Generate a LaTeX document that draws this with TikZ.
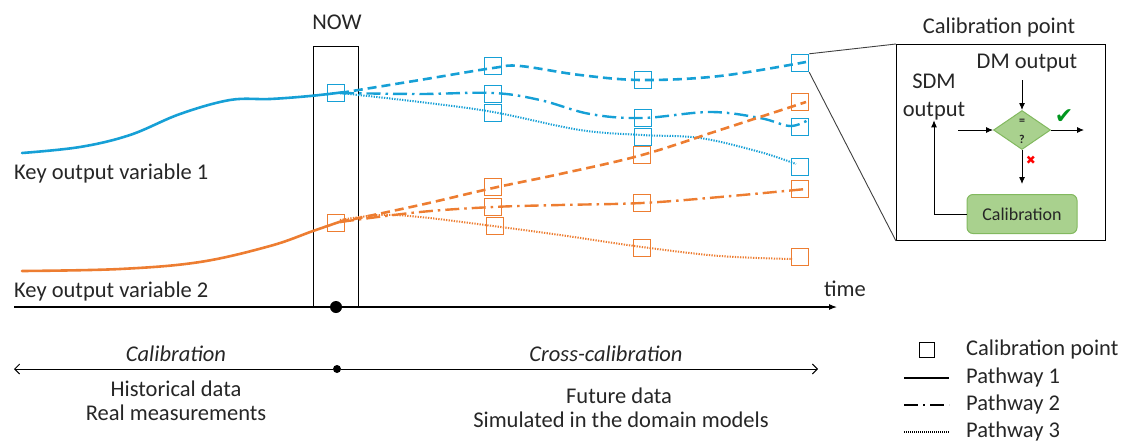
\documentclass[tikz,border=0pt]{standalone}
\usepackage{fontspec}
\setmainfont{Carlito}
\newfontfamily\symfont{DejaVu Sans}
\usetikzlibrary{arrows.meta,shapes.geometric}
\definecolor{cblue}{RGB}{22,160,214}
\definecolor{corange}{RGB}{237,125,49}
\definecolor{gfill}{RGB}{169,209,142}
\definecolor{gdraw}{RGB}{130,185,95}
\definecolor{txt}{RGB}{38,38,38}
\begin{document}
\begin{tikzpicture}[x=1pt,y=-1pt,
  lbl/.style={font=\fontsize{22.5}{26}\selectfont, text=txt, inner sep=0pt},
  sq/.style={draw, line width=1.4pt, minimum size=17pt, inner sep=0pt},
  sqb/.style={sq, draw=cblue},
  sqo/.style={sq, draw=corange},
  pw1/.style={line width=2.6pt, line cap=round},
  pwdash/.style={line width=2.6pt, dash pattern=on 9pt off 5pt},
  pw2/.style={line width=2.4pt, dash pattern=on 14pt off 5pt on 2.5pt off 5pt},
  pw3/.style={line width=2pt, dash pattern=on 1.3pt off 1.3pt},
  arr/.style={-{Latex[length=7pt,width=6pt]}, line width=0.9pt},
  greenbox/.style={fill=gfill, draw=gdraw, line width=1pt}
]
\useasboundingbox (0,0) rectangle (1126,442);

% "now" window and time axis
\node[draw, line width=1pt, minimum width=45pt, minimum height=261pt, anchor=north west, inner sep=0pt] (nowbox) at (313,46) {};
\node[lbl] (nowlbl) at (337,22) {NOW};
\coordinate (ax0) at (14,307);
\coordinate (ax1) at (837,307);
\draw[-{Latex[length=8pt,width=6pt]}, line width=1.1pt] (ax0) -- (ax1);
\node[lbl] (timelbl) at (845,289) {time};
\node[circle, fill=black, minimum size=12pt, inner sep=0pt] (nowdot) at (336,307) {};

% historical curves
\draw[cblue, pw1] plot[smooth, tension=0.6] coordinates {(22,153) (80,147) (130,135) (180,114) (230,100) (270,99) (310,96) (345,92)};
\draw[corange, pw1] plot[smooth, tension=0.6] coordinates {(22,271) (120,269) (200,262) (270,246) (313,231) (345,220)};

% future pathways, variable 1
\draw[cblue, pwdash] plot[smooth, tension=0.6] coordinates {(340,93) (420,80) (493,68) (520,66) (580,75) (642,80) (720,76) (806,62)};
\draw[cblue, pw2] plot[smooth, tension=0.6] coordinates {(340,93) (420,94) (493,93) (540,100) (590,114) (642,118) (710,112) (760,118) (790,126) (808,120)};
\draw[cblue, pw3] plot[smooth, tension=0.6] coordinates {(340,93) (420,102) (493,112) (580,130) (642,135) (700,138) (760,152) (796,164)};

% future pathways, variable 2
\draw[corange, pwdash] plot[smooth, tension=0.6] coordinates {(340,222) (420,205) (493,188) (560,174) (642,155) (720,130) (806,102)};
\draw[corange, pw2] plot[smooth, tension=0.6] coordinates {(340,222) (420,212) (493,207) (560,205) (642,203) (720,197) (806,189)};
\draw[corange, pw3] plot[smooth, tension=0.6] coordinates {(340,220) (380,215) (420,217) (493,226) (560,235) (642,247) (720,256) (792,259)};

% calibration points
\node[sqb] (b0) at (336,93) {};
\node[sqb] (b1a) at (493,66) {};
\node[sqb] (b1b) at (493,94) {};
\node[sqb] (b1c) at (493,113) {};
\node[sqb] (b2a) at (643,80) {};
\node[sqb] (b2b) at (643,118) {};
\node[sqb] (b2c) at (643,137) {};
\node[sqb] (b3a) at (800,63) {};
\node[sqb] (b3b) at (800,127) {};
\node[sqb] (b3c) at (800,167) {};
\node[sqo] (o0) at (336,223) {};
\node[sqo] (o1a) at (493,187) {};
\node[sqo] (o1b) at (493,207) {};
\node[sqo] (o1c) at (495,226) {};
\node[sqo] (o2a) at (642,155) {};
\node[sqo] (o2b) at (642,203) {};
\node[sqo] (o2c) at (642,248) {};
\node[sqo] (o3a) at (800,102) {};
\node[sqo] (o3b) at (800,189) {};
\node[sqo] (o3c) at (800,257) {};

% variable names
\node[lbl, anchor=west] (var1) at (14,173) {Key output variable 1};
\node[lbl, anchor=west] (var2) at (14,291) {Key output variable 2};

% phases
\node[circle, fill=black, minimum size=8pt, inner sep=0pt] (middot) at (337,369) {};
\coordinate (phL) at (14,369);
\coordinate (phR) at (818,369);
\draw[{Straight Barb[length=5pt,width=10pt]}-, line width=0.9pt] (phL) -- (middot);
\draw[-{Straight Barb[length=5pt,width=10pt]}, line width=0.9pt] (middot) -- (phR);
\node[lbl, font=\fontsize{22.5}{26}\selectfont\itshape] (calph) at (176,354) {Calibration};
\node[lbl, font=\fontsize{22.5}{26}\selectfont\itshape] (xcalph) at (606,354) {Cross-calibration};
\node[lbl] (hist1) at (176,389) {Historical data};
\node[lbl] (hist2) at (176,413) {Real measurements};
\node[lbl] (fut1) at (619,396) {Future data};
\node[lbl] (fut2) at (621,420) {Simulated in the domain models};

% legend
\node[draw, line width=1pt, minimum size=15pt, inner sep=0pt] (legsq) at (927,350) {};
\node[lbl, anchor=west] (leg0) at (966,349) {Calibration point};
\node[lbl, anchor=west] (leg1) at (966,377) {Pathway 1};
\node[lbl, anchor=west] (leg2) at (966,404) {Pathway 2};
\node[lbl, anchor=west] (leg3) at (966,431) {Pathway 3};
\coordinate (l1a) at (904,378); \coordinate (l1b) at (949,378);
\coordinate (l2a) at (904,405); \coordinate (l2b) at (949,405);
\coordinate (l3a) at (904,432); \coordinate (l3b) at (949,432);
\draw[line width=1.8pt] (l1a) -- (l1b);
\draw[line width=1.8pt, dash pattern=on 14pt off 5pt on 2pt off 5pt] (l2a) -- (l2b);
\draw[line width=1.2pt, dash pattern=on 1pt off 1pt] (l3a) -- (l3b);

% inset: calibration point detail
\node[draw, line width=1pt, minimum width=209pt, minimum height=196pt, anchor=north west, inner sep=0pt] (inset) at (896,44) {};
\draw[line width=0.9pt, black!75] (b3a.north east) -- (inset.north west);
\draw[line width=0.9pt, black!75] (b3a.south east) -- (inset.south west);
\node[lbl] (title) at (999,27) {Calibration point};
\node[lbl] (dm) at (1027,63) {DM output};
\node[lbl, align=center, font=\fontsize{22.5}{28}\selectfont] (sdm) at (934,97) {SDM\\output};
\node[diamond, greenbox, minimum width=57pt, minimum height=39pt, inner sep=0pt] (dia) at (1022,130) {};
\node[font=\fontsize{12}{12}\selectfont\bfseries, text=txt] (eq) at (1022,122) {=};
\node[font=\fontsize{12}{12}\selectfont\bfseries, text=txt] (qm) at (1022,139) {?};
\node[greenbox, rounded corners=6pt, minimum width=110pt, minimum height=39pt, inner sep=0pt, font=\fontsize{18}{20}\selectfont, text=txt] (cal) at (1022,214) {Calibration};
\coordinate (dmin) at (1022,80);
\coordinate (sdmin) at (958,130);
\coordinate (okout) at (1084,130);
\coordinate (noout) at (1022,184);
\draw[arr] (dmin) -- (dia.north);
\draw[arr] (sdmin) -- (dia.west);
\draw[arr] (dia.east) -- (okout);
\draw[arr] (dia.south) -- (noout);
\draw[arr] (cal.west) -| (sdm.south);
\node[font=\symfont\fontsize{22}{22}\selectfont\bfseries, text={rgb,255:red,0;green,150;blue,30}] (ok) at (1064,117) {✔};
\node[font=\symfont\fontsize{12}{12}\selectfont, text=red] (no) at (1031,160) {✖};
\end{tikzpicture}
\end{document}
